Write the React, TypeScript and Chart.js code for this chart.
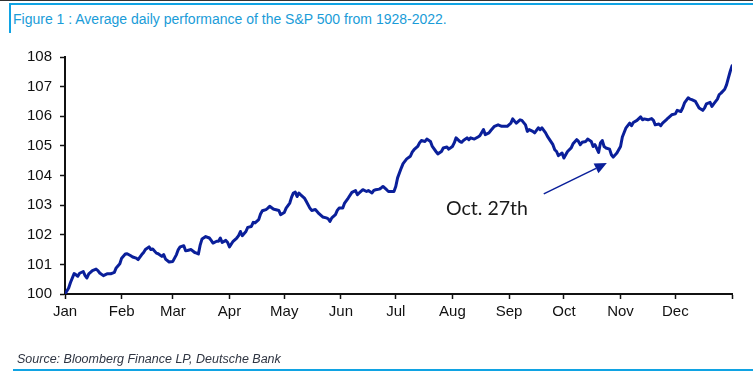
import React, { useEffect, useRef } from "react";
import { Chart, registerables } from "chart.js";

Chart.register(...registerables);

// Day of year (0 = Jan 1st, 365 = Dec 31st) and the average index level (start = 100)
const DAYS = [
  0, 2, 3, 5, 6, 7, 8, 10, 11, 12, 13, 15, 17, 18, 19, 21, 23, 25, 27, 28,
  30, 31, 33, 34, 36, 37, 39, 40, 42, 43, 44, 46, 47, 48, 50, 51, 53, 54, 55, 57,
  59, 61, 62, 63, 65, 66, 67, 69, 71, 72, 73, 74, 75, 77, 79, 80, 81, 83, 84, 85,
  86, 88, 89, 90, 92, 94, 95, 96, 97, 99, 100, 102, 103, 104, 106, 107, 108, 110, 111, 112,
  114, 115, 117, 118, 120, 121, 123, 124, 125, 126, 127, 128, 129, 131, 132, 134, 135, 137, 139, 141,
  143, 144, 145, 146, 148, 149, 150, 152, 153, 155, 157, 159, 160, 161, 163, 165, 166, 168, 169, 170,
  172, 173, 174, 176, 177, 180, 181, 182, 184, 185, 187, 189, 190, 191, 193, 194, 195, 197, 198, 200,
  201, 203, 204, 206, 207, 209, 210, 212, 213, 214, 216, 217, 218, 220, 221, 222, 224, 226, 227, 229,
  230, 232, 233, 235, 237, 239, 241, 242, 244, 245, 246, 247, 249, 250, 252, 253, 254, 256, 257, 259,
  260, 261, 263, 264, 265, 267, 268, 269, 270, 272, 273, 274, 275, 277, 278, 280, 281, 282, 283, 285,
  286, 288, 289, 290, 292, 293, 294, 295, 296, 298, 299, 300, 302, 304, 305, 307, 309, 310, 311, 313,
  315, 316, 317, 319, 321, 322, 323, 325, 326, 327, 329, 330, 332, 334, 335, 337, 338, 339, 341, 342,
  343, 345, 346, 347, 349, 350, 351, 353, 354, 355, 357, 358, 359, 361, 362, 363, 364, 365,
];

const VALUES = [
  100.0, 100.2, 100.39, 100.69, 100.65, 100.6, 100.7, 100.76, 100.62, 100.54, 100.68, 100.79, 100.84, 100.79, 100.71, 100.62, 100.68, 100.68, 100.73, 100.88,
  101.02, 101.21, 101.35, 101.36, 101.29, 101.25, 101.21, 101.16, 101.33, 101.4, 101.5, 101.59, 101.5, 101.52, 101.38, 101.36, 101.27, 101.33, 101.18, 101.08,
  101.1, 101.33, 101.5, 101.59, 101.63, 101.46, 101.47, 101.5, 101.4, 101.38, 101.35, 101.66, 101.86, 101.94, 101.89, 101.81, 101.72, 101.78, 101.78, 101.89,
  101.74, 101.81, 101.74, 101.59, 101.78, 101.89, 101.97, 102.11, 101.97, 102.11, 102.25, 102.28, 102.42, 102.4, 102.51, 102.7, 102.81, 102.85, 102.9, 102.96,
  102.87, 102.85, 102.82, 102.68, 102.75, 102.9, 103.07, 103.27, 103.41, 103.44, 103.29, 103.41, 103.35, 103.24, 103.13, 102.9, 102.82, 102.85, 102.71, 102.6,
  102.57, 102.54, 102.45, 102.57, 102.68, 102.82, 102.9, 102.9, 103.07, 103.24, 103.43, 103.49, 103.35, 103.41, 103.52, 103.46, 103.49, 103.41, 103.5, 103.52,
  103.54, 103.58, 103.63, 103.52, 103.46, 103.46, 103.63, 103.92, 104.25, 104.4, 104.56, 104.65, 104.79, 104.87, 104.98, 105.1, 105.18, 105.15, 105.23, 105.15,
  104.98, 104.81, 104.73, 104.81, 104.93, 104.96, 104.89, 104.98, 105.1, 105.27, 105.15, 105.12, 105.18, 105.27, 105.21, 105.27, 105.23, 105.3, 105.34, 105.55,
  105.38, 105.44, 105.52, 105.66, 105.71, 105.66, 105.66, 105.66, 105.77, 105.91, 105.83, 105.77, 105.88, 105.86, 105.71, 105.49, 105.55, 105.49, 105.44, 105.61,
  105.55, 105.61, 105.44, 105.32, 105.23, 105.04, 104.87, 104.81, 104.67, 104.76, 104.59, 104.7, 104.81, 104.93, 105.07, 105.21, 105.15, 105.04, 105.12, 105.15,
  105.23, 105.15, 104.98, 105.04, 104.78, 105.1, 105.18, 104.98, 104.93, 104.89, 104.7, 104.62, 104.76, 104.98, 105.3, 105.61, 105.77, 105.68, 105.79, 105.86,
  105.98, 105.88, 105.91, 105.88, 105.92, 105.86, 105.71, 105.74, 105.68, 105.77, 105.88, 105.94, 106.05, 106.08, 106.2, 106.16, 106.28, 106.45, 106.62, 106.58,
  106.56, 106.5, 106.39, 106.28, 106.2, 106.28, 106.42, 106.47, 106.33, 106.42, 106.58, 106.73, 106.78, 106.91, 107.06, 107.29, 107.51, 107.7,
];

const MONTH_STARTS = [0, 31, 59, 90, 120, 151, 181, 212, 243, 273, 304, 334, 365];
const MONTH_LABELS = ["Jan", "Feb", "Mar", "Apr", "May", "Jun", "Jul", "Aug", "Sep", "Oct", "Nov", "Dec", ""];
const Y_MIN = 100;
const Y_MAX = 108;
const Y_STEP = 1;

const TITLE = "Figure 1 : Average daily performance of the S&P 500 from 1928-2022.";
const SOURCE = "Source: Bloomberg Finance LP, Deutsche Bank";

const ANNOTATION_TEXT = "Oct. 27th";
const ANNOTATION_TEXT_AT = { day: 208.5, value: 102.68 };
const ARROW_FROM = { day: 262, value: 103.38 };
const ARROW_TO = { day: 296.5, value: 104.42 };

const LINE_COLOR = "#0a1f9a";

const annotationPlugin = {
  id: "octAnnotation",
  afterDatasetsDraw(chart: any) {
    const { ctx, scales } = chart;
    const x = scales.x;
    const y = scales.y;
    ctx.save();
    // text
    ctx.font = "19.5px Lato, 'Open Sans', sans-serif";
    ctx.fillStyle = "#1a1a1a";
    ctx.textAlign = "left";
    ctx.textBaseline = "alphabetic";
    ctx.fillText(
      ANNOTATION_TEXT,
      x.getPixelForValue(ANNOTATION_TEXT_AT.day),
      y.getPixelForValue(ANNOTATION_TEXT_AT.value)
    );
    // arrow
    const x0 = x.getPixelForValue(ARROW_FROM.day);
    const y0 = y.getPixelForValue(ARROW_FROM.value);
    const x1 = x.getPixelForValue(ARROW_TO.day);
    const y1 = y.getPixelForValue(ARROW_TO.value);
    const ang = Math.atan2(y1 - y0, x1 - x0);
    const headLen = 12;
    const headHalf = 5.5;
    const bx = x1 - headLen * Math.cos(ang);
    const by = y1 - headLen * Math.sin(ang);
    ctx.strokeStyle = LINE_COLOR;
    ctx.lineWidth = 1.5;
    ctx.beginPath();
    ctx.moveTo(x0, y0);
    ctx.lineTo(bx, by);
    ctx.stroke();
    ctx.fillStyle = LINE_COLOR;
    ctx.beginPath();
    ctx.moveTo(x1, y1);
    ctx.lineTo(bx + headHalf * Math.sin(ang), by - headHalf * Math.cos(ang));
    ctx.lineTo(bx - headHalf * Math.sin(ang), by + headHalf * Math.cos(ang));
    ctx.closePath();
    ctx.fill();
    ctx.restore();
  },
};

export default function App() {
  const canvasRef = useRef<HTMLCanvasElement | null>(null);

  useEffect(() => {
    if (!canvasRef.current) return;
    const points = DAYS.map((d, i) => ({ x: d, y: VALUES[i] }));
    const tickFont = { family: "'Liberation Sans', Arial, sans-serif", size: 15 };
    const chart = new Chart(canvasRef.current, {
      type: "line",
      data: {
        datasets: [
          {
            data: points,
            borderColor: LINE_COLOR,
            borderWidth: 3,
            pointRadius: 0,
            tension: 0,
            fill: false,
            borderJoinStyle: "round",
            borderCapStyle: "round",
          },
        ],
      },
      options: {
        responsive: false,
        animation: false,
        events: [],
        layout: { padding: { left: 0, top: 57, right: 21, bottom: 49 } },
        plugins: { legend: { display: false }, tooltip: { enabled: false } },
        scales: {
          x: {
            type: "linear",
            min: 0,
            max: 365,
            afterBuildTicks: (s: any) => {
              s.ticks = MONTH_STARTS.map((v) => ({ value: v }));
            },
            afterFit: (s: any) => {
              s.height = 30;
            },
            ticks: {
              autoSkip: false,
              maxRotation: 0,
              color: "#111",
              font: tickFont,
              padding: 4,
              callback: (v: any) => {
                const i = MONTH_STARTS.indexOf(Number(v));
                return i >= 0 ? MONTH_LABELS[i] : "";
              },
            },
            grid: {
              display: true,
              drawOnChartArea: false,
              drawTicks: true,
              tickLength: 5,
              tickColor: "#111",
              tickWidth: 1.5,
            },
            border: { display: true, color: "#111", width: 2 },
          },
          y: {
            min: Y_MIN,
            max: Y_MAX,
            afterFit: (s: any) => {
              s.width = 65;
            },
            ticks: {
              stepSize: Y_STEP,
              color: "#111",
              font: tickFont,
              padding: 8,
            },
            grid: {
              display: true,
              drawOnChartArea: false,
              drawTicks: true,
              tickLength: 5,
              tickColor: "#111",
              tickWidth: 1.5,
            },
            border: { display: true, color: "#111", width: 2 },
          },
        },
      },
      plugins: [annotationPlugin],
    } as any);
    return () => chart.destroy();
  }, []);

  return (
    <div
      style={{
        position: "absolute",
        left: 0,
        top: 0,
        width: 753,
        height: 373,
        background: "#fff",
        overflow: "hidden",
      }}
    >
      <div style={{ position: "absolute", left: 0, top: 0, width: 753, height: 1, background: "#333" }} />
      <div style={{ position: "absolute", left: 9, top: 3, width: 744, height: 2, background: "#10a3e3" }} />
      <div style={{ position: "absolute", left: 9, top: 3, width: 1.5, height: 30, background: "#10a3e3" }} />
      <div
        style={{
          position: "absolute",
          left: 13,
          top: 11,
          fontFamily: "'Liberation Sans', Arial, sans-serif",
          fontSize: 14,
          lineHeight: "16px",
          color: "#1a9cd8",
          whiteSpace: "nowrap",
        }}
      >
        {TITLE}
      </div>
      <canvas
        ref={canvasRef}
        width={753}
        height={373}
        style={{ position: "absolute", left: 0, top: 0, width: 753, height: 373 }}
      />
      <div
        style={{
          position: "absolute",
          left: 17,
          top: 352,
          fontFamily: "'Liberation Sans', Arial, sans-serif",
          fontSize: 12.5,
          fontStyle: "italic",
          lineHeight: "15px",
          color: "#2f3542",
          whiteSpace: "nowrap",
        }}
      >
        {SOURCE}
      </div>
      <div style={{ position: "absolute", left: 13, top: 369, width: 740, height: 2, background: "#10a3e3" }} />
    </div>
  );
}
